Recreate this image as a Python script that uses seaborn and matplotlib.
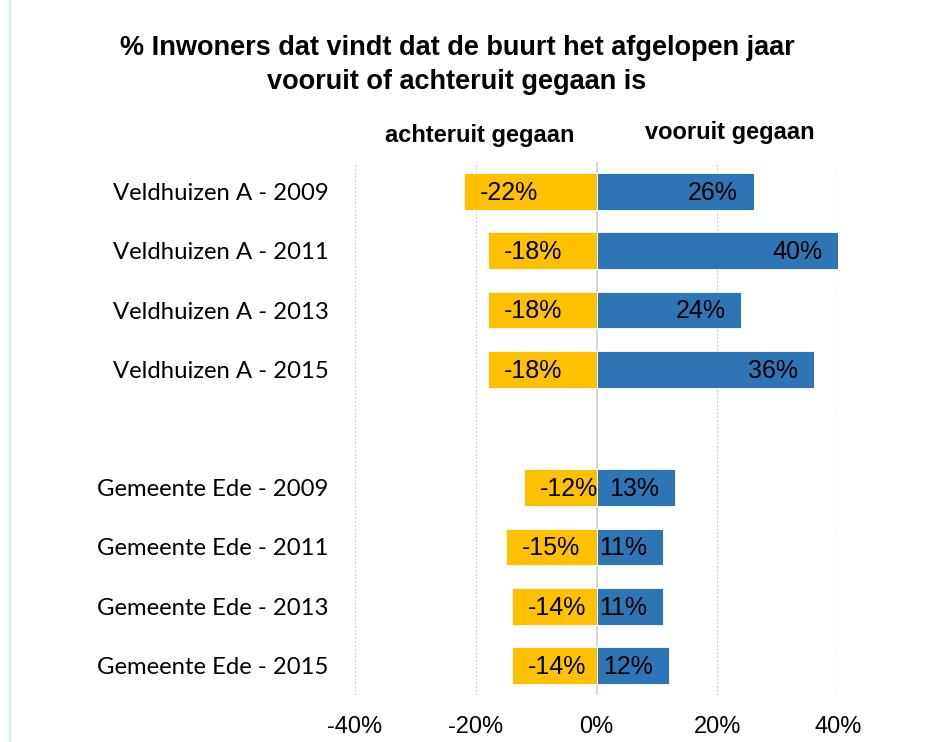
import numpy as np
import pandas as pd
import seaborn as sns
import matplotlib.pyplot as plt
from matplotlib.lines import Line2D

# data
labels = ["Veldhuizen A - 2009", "Veldhuizen A - 2011", "Veldhuizen A - 2013", "Veldhuizen A - 2015",
          "Gemeente Ede - 2009", "Gemeente Ede - 2011", "Gemeente Ede - 2013", "Gemeente Ede - 2015"]
achteruit = [-22, -18, -18, -18, -12, -15, -14, -14]
vooruit = [26, 40, 24, 36, 13, 11, 11, 12]
x_ticks = [-40, -20, 0, 20, 40]

# empty slot between the two groups
order = labels[:4] + [" "] + labels[4:]

df = pd.DataFrame({"label": labels, "achteruit": achteruit, "vooruit": vooruit})

sns.set_style("white")
plt.rcParams["font.family"] = ["Liberation Sans", "DejaVu Sans"]
plt.rcParams["text.color"] = "black"
plt.rcParams["xtick.color"] = "black"
plt.rcParams["ytick.color"] = "black"

fig = plt.figure(figsize=(9.43, 7.42), dpi=100)
ax = fig.add_axes([0.3765, 0.0633, 0.5122, 0.7184])

sns.barplot(data=df, y="label", x="achteruit", order=order, color="#FFC000",
            width=0.62, saturation=1, edgecolor="white", linewidth=0.6, ax=ax)
sns.barplot(data=df, y="label", x="vooruit", order=order, color="#2E75B6",
            width=0.62, saturation=1, edgecolor="white", linewidth=0.6, ax=ax)

# data labels inside the bar ends
for i, lab in enumerate(order):
    if lab not in labels:
        continue
    k = labels.index(lab)
    ax.annotate(f"{achteruit[k]}%", xy=(achteruit[k], i), xytext=(11.5, -1),
                textcoords="offset points", ha="left", va="center", fontsize=18, color="black")
    ax.annotate(f"{vooruit[k]}%", xy=(vooruit[k], i), xytext=(-11.5, -1),
                textcoords="offset points", ha="right", va="center", fontsize=18, color="black")

ax.set_xlim(-40, 40)
ax.set_xticks(x_ticks)
ax.set_xticklabels([f"{t}%" for t in x_ticks], fontsize=17)
ax.set_xlabel("")
ax.set_ylabel("")
ax.tick_params(axis="x", length=0, pad=15)
ax.tick_params(axis="y", length=0, pad=19)
for t in ax.get_yticklabels():
    t.set_fontfamily(["Lato", "DejaVu Sans"])
    t.set_fontsize(17.2)

for x in x_ticks:
    if x == 0:
        ax.axvline(0, color="#D0D0D0", lw=1.2, zorder=0.5)
    else:
        ax.axvline(x, color="#C8C8C8", lw=0.9, ls=(0, (1.5, 1.5)), zorder=0.5)
sns.despine(ax=ax, left=True, bottom=True)

fig.text(0.4846, 0.9120, "% Inwoners dat vindt dat de buurt het afgelopen jaar\nvooruit of achteruit gegaan is",
         ha="center", va="center", fontsize=19.5, fontweight="bold", linespacing=1.4)
fig.text(0.509, 0.818, "achteruit gegaan", ha="center", va="center", fontsize=17, fontweight="bold")
fig.text(0.774, 0.822, "vooruit gegaan", ha="center", va="center", fontsize=17, fontweight="bold")

fig.add_artist(Line2D([0.0111, 0.0111], [0, 1], transform=fig.transFigure, color="#BDF5F5", lw=1.2))

fig.savefig("out.png", dpi=100)
